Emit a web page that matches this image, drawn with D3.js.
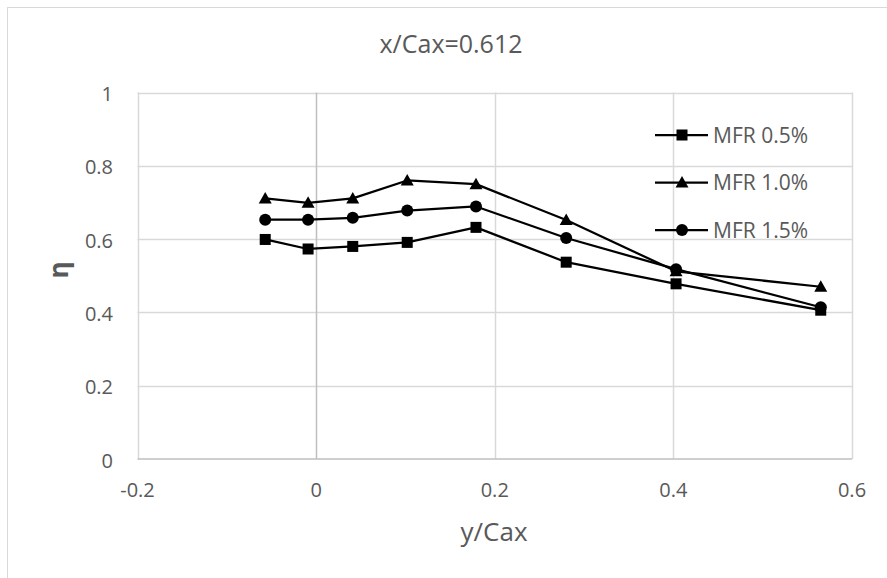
<!DOCTYPE html>
<html>
<head>
<meta charset="utf-8">
<script src="https://cdn.jsdelivr.net/npm/d3@7"></script>
<style>
  html, body { margin: 0; padding: 0; background: #fff; }
  svg { display: block; }
  text { font-family: "Open Sans", "Liberation Sans", sans-serif; fill: #595959; }
</style>
</head>
<body>
<svg id="chart" width="887" height="578"></svg>
<script>
// y/Cax positions of the measurement stations
const yCax = [-0.057, -0.009, 0.041, 0.102, 0.179, 0.280, 0.403, 0.565];

// Film cooling effectiveness for each mass flow ratio
const mfr05 = [0.599, 0.573, 0.580, 0.591, 0.632, 0.537, 0.478, 0.406];
const mfr10 = [0.711, 0.699, 0.711, 0.760, 0.750, 0.652, 0.512, 0.470];
const mfr15 = [0.653, 0.653, 0.658, 0.678, 0.689, 0.603, 0.518, 0.414];

const seriesNames = ["MFR 0.5%", "MFR 1.0%", "MFR 1.5%"];
const seriesMarkers = ["square", "triangle", "circle"];

const xTicks = [-0.2, 0, 0.2, 0.4, 0.6];
const yTicks = [0, 0.2, 0.4, 0.6, 0.8, 1];

const chartTitle = "x/Cax=0.612";
const xTitle = "y/Cax";
const yTitle = "η";

const svg = d3.select("#chart");

// chart area outline
svg.append("rect")
  .attr("x", 7.5).attr("y", 7.5)
  .attr("width", 900).attr("height", 600)
  .attr("fill", "#fff").attr("stroke", "#d9d9d9").attr("stroke-width", 1);

const x = d3.scaleLinear().domain([-0.2, 0.6]).range([137.5, 852]);
const y = d3.scaleLinear().domain([0, 1]).range([459, 92.5]);

// gridlines
const grid = svg.append("g");
grid.selectAll(".hg").data(yTicks.filter(d => d > 0)).join("line")
  .attr("x1", x(-0.2)).attr("x2", x(0.6))
  .attr("y1", d => Math.round(y(d)) + 0.5).attr("y2", d => Math.round(y(d)) + 0.5)
  .attr("stroke", "#d9d9d9").attr("stroke-width", 1.5);
grid.selectAll(".vg").data(xTicks.filter(d => d !== 0)).join("line")
  .attr("x1", d => Math.round(x(d)) + 0.5).attr("x2", d => Math.round(x(d)) + 0.5)
  .attr("y1", y(1)).attr("y2", y(0))
  .attr("stroke", "#d9d9d9").attr("stroke-width", 1.5);

// axes lines (horizontal axis at 0, vertical axis crosses at x = 0)
svg.append("line")
  .attr("x1", x(-0.2)).attr("x2", x(0.6))
  .attr("y1", y(0)).attr("y2", y(0))
  .attr("stroke", "#bfbfbf").attr("stroke-width", 1.5);
svg.append("line")
  .attr("x1", Math.round(x(0)) + 0.5).attr("x2", Math.round(x(0)) + 0.5)
  .attr("y1", y(1)).attr("y2", y(0))
  .attr("stroke", "#bfbfbf").attr("stroke-width", 1.5);

// tick labels
const fmt = d => d3.format("")(+d.toFixed(1));
svg.append("g").selectAll("text").data(xTicks).join("text")
  .attr("x", d => x(d)).attr("y", 497)
  .attr("text-anchor", "middle")
  .attr("font-size", 20)
  .text(d => d === 0 ? "0" : (d < 0 ? "-" : "") + Math.abs(d).toFixed(1));
svg.append("g").selectAll("text").data(yTicks).join("text")
  .attr("x", 113).attr("y", d => y(d) + 8.5)
  .attr("text-anchor", "end")
  .attr("font-size", 20)
  .text(d => d === 0 ? "0" : d === 1 ? "1" : d.toFixed(1));

// titles
svg.append("text")
  .attr("x", 451).attr("y", 53)
  .attr("text-anchor", "middle").attr("font-size", 25)
  .text(chartTitle);
svg.append("text")
  .attr("x", 494).attr("y", 541)
  .attr("text-anchor", "middle").attr("font-size", 26)
  .text(xTitle);
svg.append("text")
  .attr("transform", "translate(68,270) rotate(-90)")
  .attr("text-anchor", "middle").attr("font-size", 26).attr("font-weight", "bold")
  .text(yTitle);

// marker drawing
function drawMarker(g, type, cx, cy) {
  if (type === "square") {
    g.append("rect").attr("x", cx - 5.5).attr("y", cy - 5.5)
      .attr("width", 11).attr("height", 11).attr("fill", "#000");
  } else if (type === "circle") {
    g.append("circle").attr("cx", cx).attr("cy", cy).attr("r", 6).attr("fill", "#000");
  } else {
    g.append("path")
      .attr("d", `M${cx},${cy - 6.5}L${cx + 6.5},${cy + 5}L${cx - 6.5},${cy + 5}Z`)
      .attr("fill", "#000");
  }
}

const allSeries = [mfr05, mfr10, mfr15];
const line = d3.line().x((d, i) => x(yCax[i])).y(d => y(d));

allSeries.forEach((vals, s) => {
  const g = svg.append("g");
  g.append("path").datum(vals)
    .attr("d", line)
    .attr("fill", "none").attr("stroke", "#000").attr("stroke-width", 2.25)
    .attr("stroke-linejoin", "round");
  vals.forEach((v, i) => drawMarker(g, seriesMarkers[s], x(yCax[i]), y(v)));
});

// legend
const legendY = [135, 182.5, 230];
seriesNames.forEach((name, s) => {
  const g = svg.append("g");
  const ly = legendY[s];
  g.append("line").attr("x1", 655).attr("x2", 708).attr("y1", ly).attr("y2", ly)
    .attr("stroke", "#000").attr("stroke-width", 2.25);
  drawMarker(g, seriesMarkers[s], 682, ly);
  g.append("text").attr("x", 713).attr("y", ly + 7.5)
    .attr("font-size", 21).text(name);
});
</script>
</body>
</html>
